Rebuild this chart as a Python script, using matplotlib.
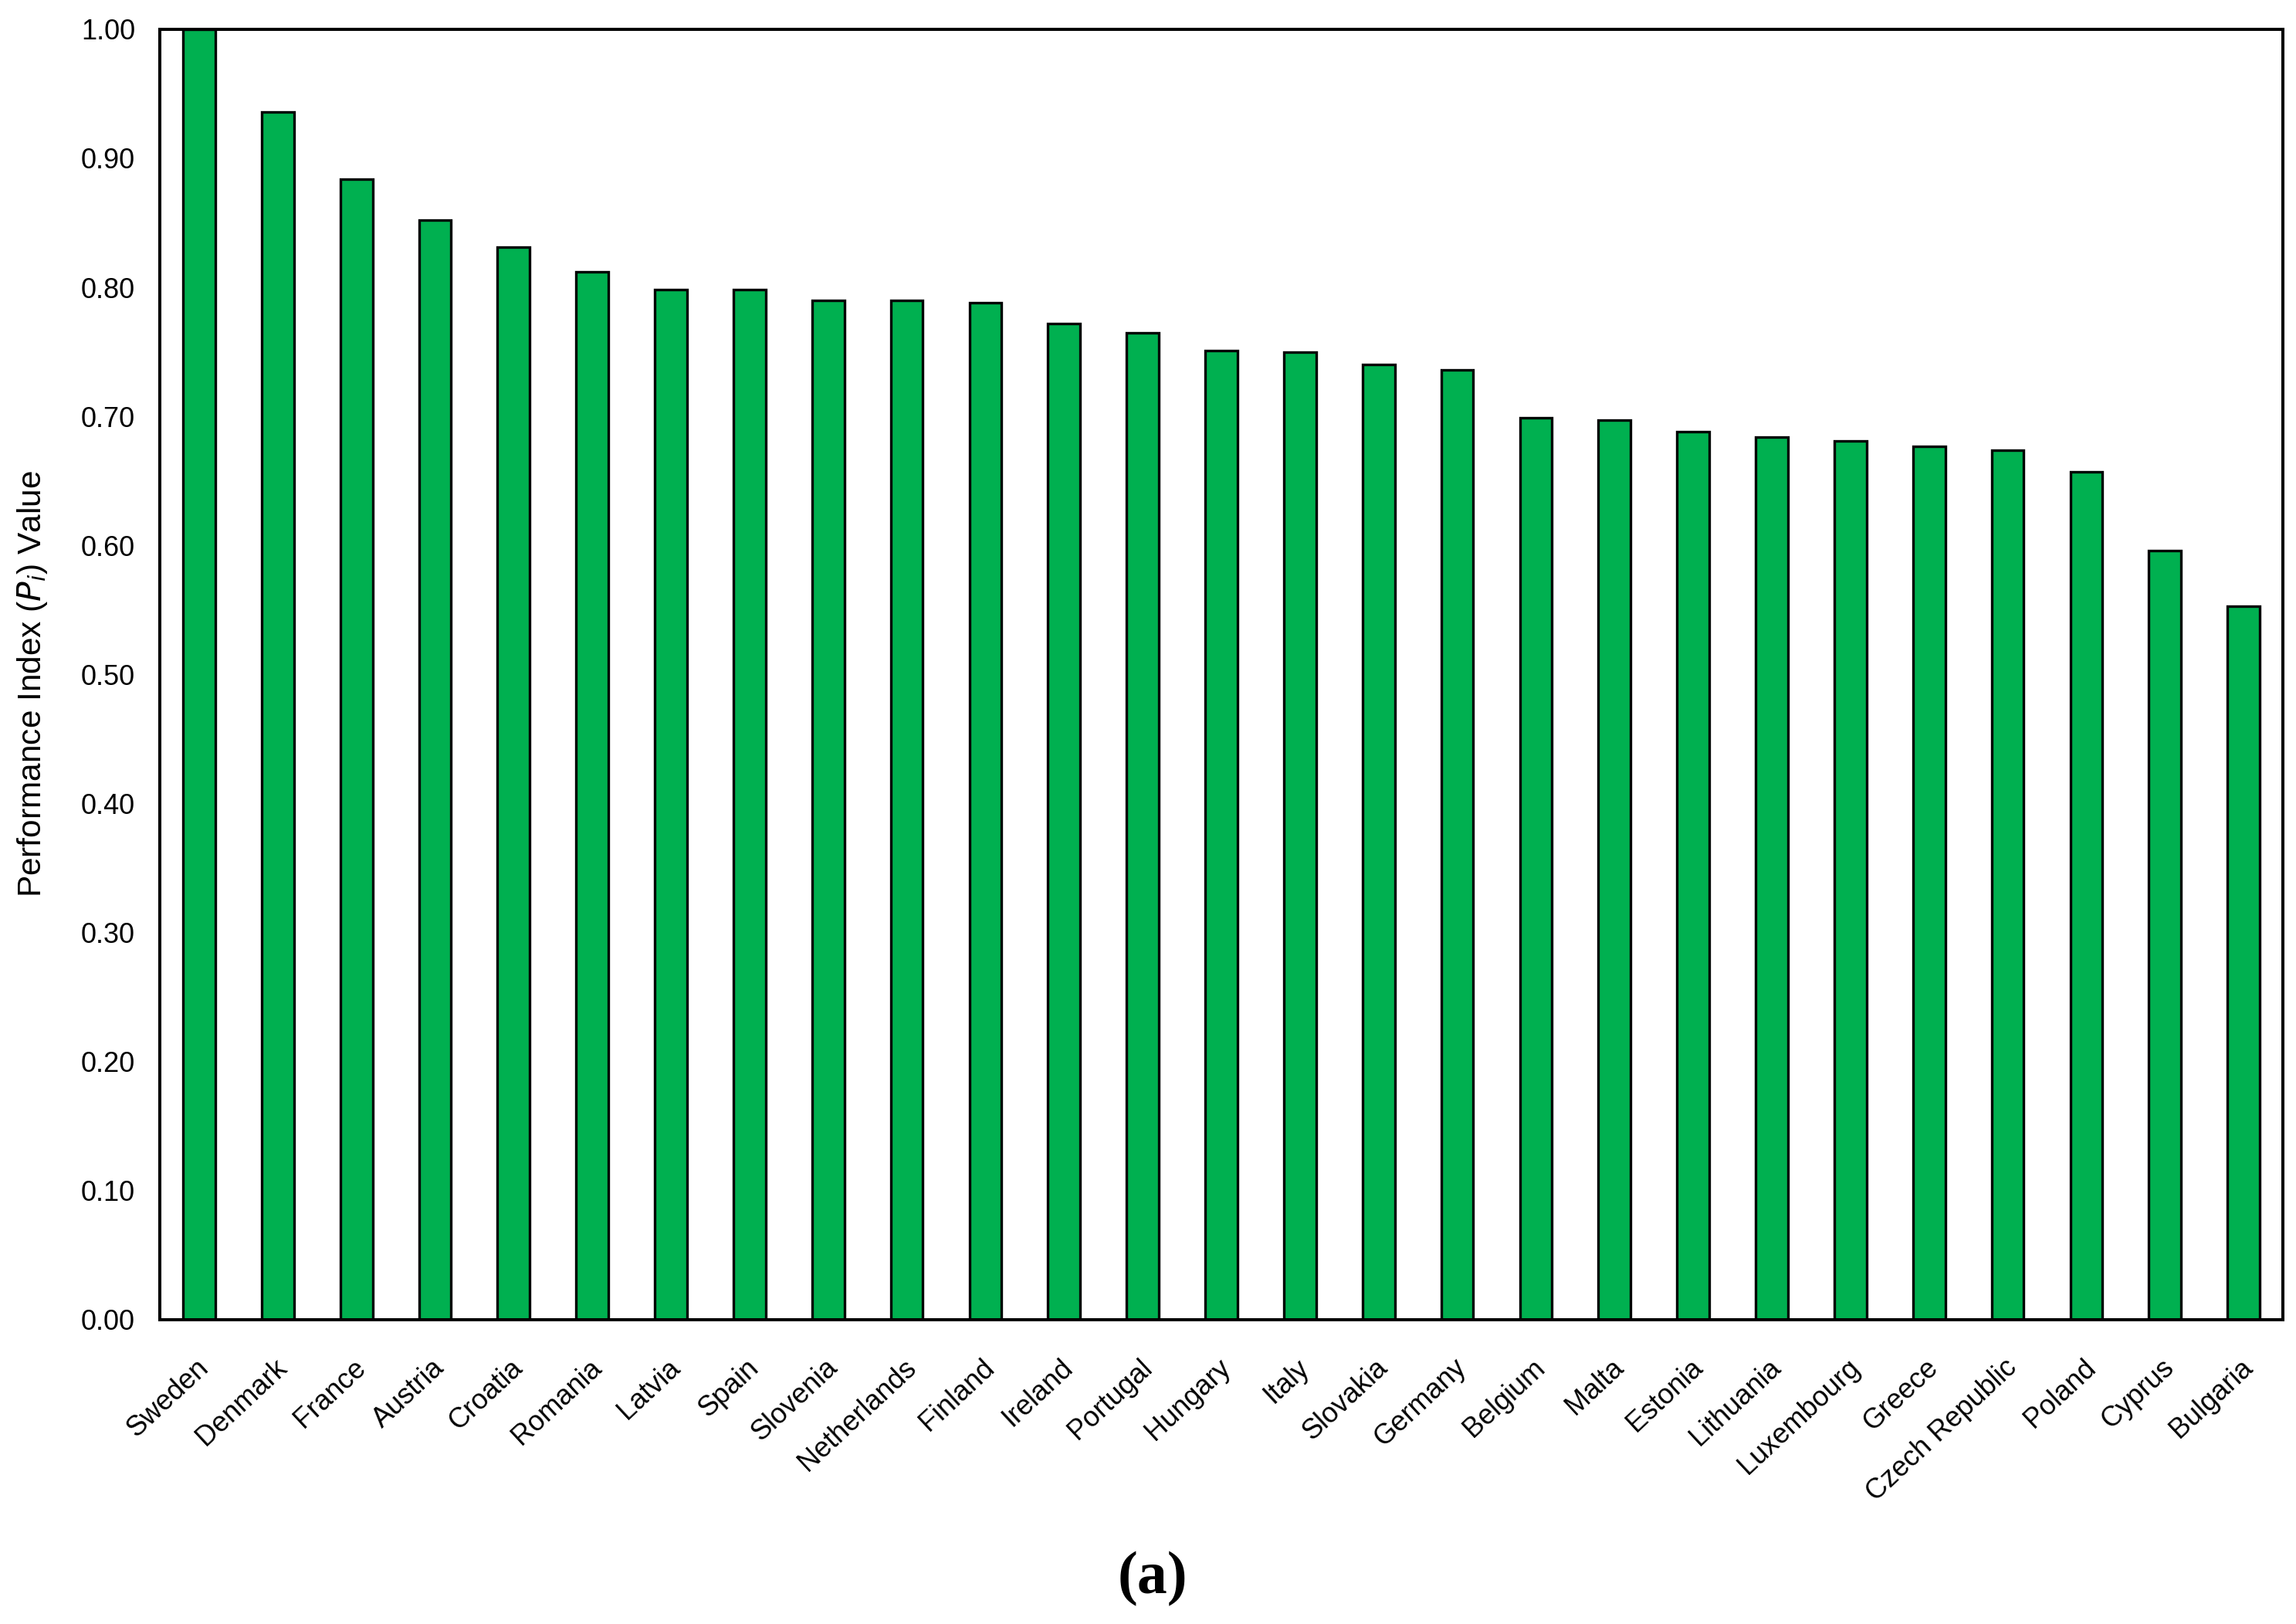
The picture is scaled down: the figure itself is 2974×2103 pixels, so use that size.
import matplotlib.pyplot as plt
from matplotlib.transforms import ScaledTranslation

plt.rcParams['font.family'] = ['Liberation Sans', 'DejaVu Sans']

countries = ["Sweden", "Denmark", "France", "Austria", "Croatia", "Romania", "Latvia",
             "Spain", "Slovenia", "Netherlands", "Finland", "Ireland", "Portugal",
             "Hungary", "Italy", "Slovakia", "Germany", "Belgium", "Malta", "Estonia",
             "Lithuania", "Luxembourg", "Greece", "Czech Republic", "Poland", "Cyprus",
             "Bulgaria"]
pi_values = [1.000, 0.936, 0.884, 0.852, 0.831, 0.812, 0.798,
             0.798, 0.790, 0.790, 0.788, 0.772, 0.765,
             0.751, 0.750, 0.740, 0.736, 0.699, 0.697, 0.688,
             0.684, 0.681, 0.677, 0.674, 0.657, 0.596,
             0.553]
yticks = [0.0, 0.1, 0.2, 0.3, 0.4, 0.5, 0.6, 0.7, 0.8, 0.9, 1.0]

fig = plt.figure(figsize=(29.74, 21.03), dpi=100)
ax = fig.add_axes([0.0696, 0.1874, 0.9247, 0.7946])

x = range(len(countries))
ax.bar(x, pi_values, width=0.41, color="#00B050", edgecolor="black", linewidth=2.4)

ax.set_xlim(-0.5, len(countries) - 0.5)
ax.set_ylim(0, 1.0)
ax.set_yticks(yticks)
ax.set_yticklabels(["%.2f" % v for v in yticks], fontsize=26)
ax.set_xticks(list(x))
ax.set_xticklabels(countries, rotation=43, ha="right", rotation_mode="anchor",
                   fontsize=26)
ax.tick_params(axis="both", length=0)
ax.tick_params(axis="y", pad=23)
ax.tick_params(axis="x", pad=32)

# small sideways nudge of the rotated labels
shift = ScaledTranslation(-3.6 / 72, 0, fig.dpi_scale_trans)
for lab in ax.get_xticklabels():
    lab.set_transform(lab.get_transform() + shift)

for s in ax.spines.values():
    s.set_linewidth(2.9)
    s.set_color("black")

ax.set_ylabel("Performance Index ($P_i$) Value", fontsize=30.5)
ax.yaxis.set_label_coords(-0.052, 0.4925)

fig.text(0.502, 0.0276, "(a)", ha="center", va="center", fontsize=56,
         fontweight="bold", family="Liberation Serif")

fig.savefig("out.png", dpi=100)
